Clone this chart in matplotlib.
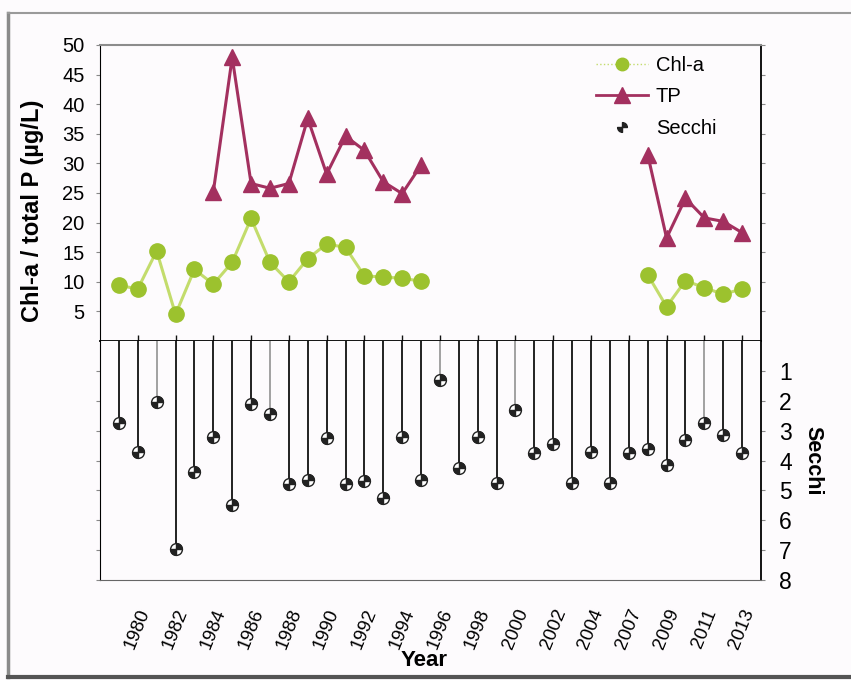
import numpy as np
import matplotlib
matplotlib.use("Agg")
import matplotlib.pyplot as plt
from matplotlib.path import Path
from matplotlib.lines import Line2D

plt.rcParams["font.family"] = ["Liberation Sans", "DejaVu Sans"]

# categories (one per sampling year)
years = ["1979", "1980", "1981", "1982", "1983", "1984", "1985", "1986", "1987",
         "1988", "1989", "1990", "1991", "1992", "1993", "1994", "1995", "1996",
         "1997", "1998", "1999", "2000", "2001", "2002", "2003", "2004", "2006",
         "2007", "2008", "2009", "2010", "2011", "2012", "2013"]
label_years = ["1980", "1982", "1984", "1986", "1988", "1990", "1992", "1994",
               "1996", "1998", "2000", "2002", "2004", "2007", "2009", "2011", "2013"]

na = None
chla = [9.4, 8.8, 15.2, 4.5, 12.1, 9.6, 13.3, 20.7, 13.3, 10.0, 13.9, 16.4, 15.8,
        11.0, 10.8, 10.6, 10.1, na, na, na, na, na, na, na, na, na, na, na,
        11.2, 5.8, 10.2, 9.0, 7.9, 8.8]
tp = [na, na, na, na, na, 25.2, 47.9, 26.6, 25.8, 26.6, 37.6, 28.2, 34.6, 32.2,
      26.9, 24.9, 29.7, na, na, na, na, na, na, na, na, na, na, na,
      31.5, 17.4, 24.1, 20.8, 20.2, 18.3]
secchi = [2.75, 3.7, 2.05, 6.95, 4.4, 3.2, 5.5, 2.1, 2.45, 4.8, 4.65, 3.25, 4.8,
          4.7, 5.25, 3.2, 4.65, 1.3, 4.25, 3.2, 4.75, 2.3, 3.75, 3.45, 4.75, 3.7,
          4.75, 3.75, 3.6, 4.15, 3.3, 2.75, 3.15, 3.75]
faint_stems = ["1981", "1987", "1996", "2000", "2011"]

x = np.arange(len(years))
chla = np.array(chla, dtype=float)
tp = np.array(tp, dtype=float)
secchi = np.array(secchi, dtype=float)
stem_colors = ["#9a9a9a" if y in faint_stems else "#111111" for y in years]

GREEN = "#9cc22e"
GREEN_LINE = "#c3dc6c"
MAROON = "#a3305f"

fig = plt.figure(figsize=(8.51, 6.80), dpi=100, facecolor="#fdfbfd")
left, right = 100 / 851, 761 / 851
top, mid, bot = 1 - 45 / 680, 1 - 341 / 680, 1 - 580 / 680
ax1 = fig.add_axes([left, mid, right - left, top - mid])
ax2 = fig.add_axes([left, bot, right - left, mid - bot], sharex=ax1)
for ax in (ax1, ax2):
    ax.set_facecolor("#fdfbfd")

# outer frame of the figure
for xs, ys, c, w in [([8, 8], [13, 677], "#8a8a8a", 2.5),
                     ([8, 851], [13, 13], "#9a9a9a", 1.5),
                     ([8, 851], [677, 677], "#555555", 3)]:
    fig.add_artist(Line2D(np.array(xs) / 851, 1 - np.array(ys) / 680,
                          color=c, lw=w, transform=fig.transFigure))

# top panel: Chl-a and TP
ax1.plot(x, chla, color=GREEN_LINE, lw=2.2, zorder=2)
ax1.plot(x, chla, ls="none", marker="o", ms=11, color=GREEN, mec=GREEN, zorder=3)
ax1.plot(x, tp, color=MAROON, lw=2.2, marker="^", ms=12, mec=MAROON, zorder=3)
ax1.set_xlim(-1, 34)
ax1.set_ylim(0, 50)
ax1.set_yticks([5, 10, 15, 20, 25, 30, 35, 40, 45, 50])
ax1.tick_params(axis="y", which="both", direction="out", length=3, color="#888888",
                labelsize=14.5, pad=8, right=True)
ax1.set_xticks(x)
ax1.tick_params(axis="x", direction="inout", length=9, width=1, color="#111111",
                labelbottom=False)
ax1.set_ylabel("Chl-a / total P (µg/L)", fontsize=17, fontweight="bold")
ax1.yaxis.set_label_coords(-0.084, 0.44)
ax1.spines["top"].set_color("#8c8c8c")
ax1.spines["top"].set_linewidth(1.5)
ax1.spines["bottom"].set_linewidth(1.3)
ax1.spines["right"].set_linewidth(1.3)

# bottom panel: Secchi depth hanging from the zero line
disk = Path.make_compound_path(Path.wedge(0, 90), Path.wedge(180, 270))
ax2.vlines(x, 0, secchi, colors=stem_colors, lw=1.3, zorder=2)
ax2.plot(x, secchi, ls="none", marker="o", ms=8.5, mfc="white", mec="#222222",
         mew=1, zorder=3)
ax2.plot(x, secchi, ls="none", marker=disk, ms=8.5, color="#222222", zorder=4)
ax2.set_ylim(8, 0)
ax2.set_yticks([1, 2, 3, 4, 5, 6, 7, 8])
ax2.yaxis.tick_right()
ax2.tick_params(axis="y", which="both", direction="out", length=3, color="#888888",
                labelsize=16.5, pad=10, left=True)
ax2.set_ylabel("Secchi", fontsize=15.5, fontweight="bold", rotation=-90, va="center")
ax2.yaxis.set_label_position("right")
ax2.yaxis.set_label_coords(1.095, 0.5)
ax2.spines["top"].set_visible(False)
ax2.spines["bottom"].set_color("#666666")
ax2.spines["right"].set_linewidth(1.3)

ax2.set_xticks([years.index(y) for y in label_years])
ax2.set_xticklabels(label_years, rotation=68, ha="center", va="top", fontsize=13.5)
ax2.tick_params(axis="x", length=0, pad=19)
ax2.set_xlabel("Year", fontsize=16, fontweight="bold", va="center")
ax2.xaxis.set_label_coords(0.49, -0.335)

handles = [
    Line2D([], [], color=GREEN_LINE, lw=1, ls=":", marker="o", ms=9, mfc=GREEN, mec=GREEN),
    Line2D([], [], color=MAROON, lw=2, marker="^", ms=11, mfc=MAROON, mec=MAROON),
    Line2D([], [], ls="none", marker=disk, ms=7, color="#222222"),
]
ax1.legend(handles, ["Chl-a", "TP", "Secchi"], loc="upper right",
           bbox_to_anchor=(0.96, 1.025), frameon=False, fontsize=14.5,
           handlelength=2.6, labelspacing=0.62, handletextpad=0.4)

fig.savefig("out.png", dpi=100, facecolor=fig.get_facecolor())
